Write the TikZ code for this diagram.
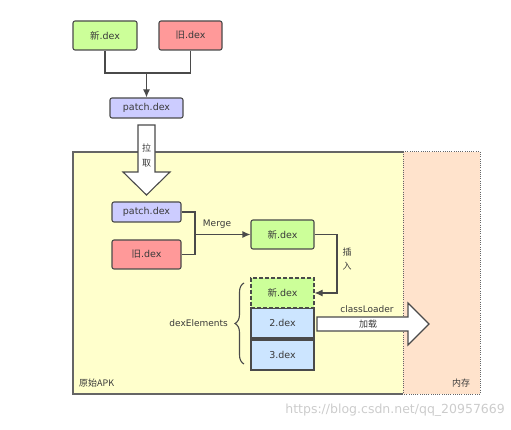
\documentclass[tikz,border=0pt]{standalone}
\usepackage{fontspec}
\setmainfont{DejaVu Sans}
\newfontfamily\cjk{Noto Sans CJK SC}
\usetikzlibrary{arrows.meta,decorations.pathreplacing,calc}
\definecolor{ln}{HTML}{4A4A4A}
\definecolor{tx}{HTML}{3A3A3A}
\definecolor{cgreen}{HTML}{CCFF99}
\definecolor{cred}{HTML}{FF9999}
\definecolor{cpurple}{HTML}{CCCCFF}
\definecolor{cblue}{HTML}{CCE5FF}
\definecolor{cyellow}{HTML}{FFFFCC}
\definecolor{cpeach}{HTML}{FFE3CC}
\tikzset{
  box/.style={draw=ln,line width=1.1pt,rounded corners=2pt,text=tx,font=\fontsize{9.5}{11}\selectfont,inner sep=0pt},
  stackbox/.style={draw=ln,line width=1.1pt,text=tx,font=\fontsize{9.5}{11}\selectfont,inner sep=0pt,minimum width=63pt,minimum height=30pt},
  conn/.style={draw=ln,line width=1.1pt},
  arr/.style={conn,-{Latex[length=8pt,width=7pt]}},
  hollow/.style={draw=ln,line width=1.1pt,fill=white},
  lbl/.style={text=tx,font=\fontsize{9}{10}\selectfont,inner sep=0pt}
}
\begin{document}
\begin{tikzpicture}[x=1pt,y=-1pt]
\useasboundingbox (0,0) rectangle (511,430);
% container
\fill[cyellow] (73,152) rectangle (403,394);
\fill[cpeach] (403,152) rectangle (480,394);
\draw[ln!85,line width=1.1pt] (403,152) -- (73,152) -- (73,394) -- (403,394);
\draw[ln!85,line width=1pt,dash pattern=on 1pt off 1.2pt] (403,152) -- (480,152) -- (480,394) -- (403,394);
\draw[ln!85,line width=1pt,dash pattern=on 1pt off 1.2pt] (403,152) -- (403,394);
\node[lbl,anchor=west] (apk) at (79,383) {\cjk 原始APK};
\node[lbl] (mem) at (461,383) {\cjk 内存};
% top
\node[box,fill=cgreen,minimum width=64pt,minimum height=29pt] (n1) at (105,35.5) {{\cjk 新}.dex};
\node[box,fill=cred,minimum width=63pt,minimum height=29pt] (o1) at (190.5,35.5) {{\cjk 旧}.dex};
\node[box,fill=cpurple,minimum width=73pt,minimum height=20pt] (p1) at (146.5,108) {patch.dex};
\coordinate (tj) at (146.5,73);
\draw[conn] (n1.south) |- (tj);
\draw[conn] (o1.south) |- (tj);
\draw[arr] (tj) -- (p1.north);
% pull arrow
\draw[hollow] (138,125) -- (155,125) -- (155,172) -- (170,172) -- (146.5,195) -- (123,172) -- (138,172) -- cycle;
\node[lbl] (la) at (146.5,148) {\cjk 拉};
\node[lbl] (qu) at (146.5,163) {\cjk 取};
% merge
\node[box,fill=cpurple,minimum width=69pt,minimum height=20pt] (p2) at (146.5,212) {patch.dex};
\node[box,fill=cred,minimum width=69pt,minimum height=29pt] (o2) at (146.5,254.5) {{\cjk 旧}.dex};
\node[box,fill=cgreen,minimum width=63pt,minimum height=29pt] (nm) at (282.5,234.5) {{\cjk 新}.dex};
\coordinate (mj) at (195,234.5);
\draw[conn] (p2.east) -| (mj) |- (o2.east);
\draw[arr] (mj) -- (nm.west);
\node[lbl] (merge) at (217,224) {Merge};
% stack
\node[stackbox,fill=cblue] (d2) at (282.5,323) {2.dex};
\node[stackbox,fill=cblue] (d3) at (282.5,355) {3.dex};
\node[stackbox,fill=cgreen,dash pattern=on 4pt off 2pt] (nd) at (282.5,293) {{\cjk 新}.dex};
\coordinate (ij) at (337,260);
\draw[arr] (nm.east) -| (ij) |- (nd.east);
\node[lbl] (cha) at (347,252) {\cjk 插};
\node[lbl] (ru) at (347,266) {\cjk 入};
% brace
\coordinate (bb) at (244,364);
\coordinate (bt) at (244,283);
\draw[ln,line width=1.1pt,decorate,decoration={brace,amplitude=9pt}] (bb) -- (bt);
\node[lbl,anchor=east] (de) at (228,323.5) {dexElements};
% load arrow
\draw[hollow] (317,317) -- (408,317) -- (408,303) -- (429,324) -- (408,345) -- (408,331) -- (317,331) -- cycle;
\node[lbl] (cl) at (367,309) {classLoader};
\node[lbl] (jz) at (368,324) {\cjk 加载};
% watermark
\node[anchor=east,text=black!20,font=\fontsize{12.5}{14}\selectfont,inner sep=0pt] (wm) at (505,410) {https://blog.csdn.net/qq\_20957669};
\end{tikzpicture}
\end{document}
